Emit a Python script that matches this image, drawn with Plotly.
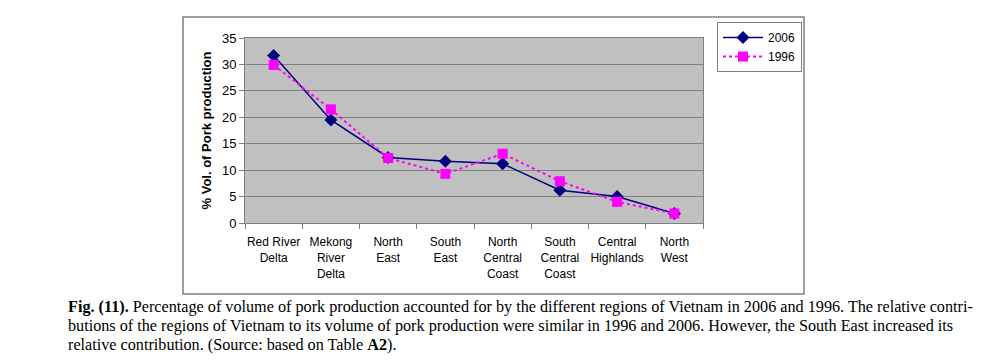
import plotly.graph_objects as go

categories = ["Red River<br>Delta", "Mekong<br>River<br>Delta", "North<br>East", "South<br>East",
              "North<br>Central<br>Coast", "South<br>Central<br>Coast", "Central<br>Highlands", "North<br>West"]
vals_2006 = [31.7, 19.5, 12.4, 11.7, 11.2, 6.2, 5.0, 1.8]
vals_1996 = [29.9, 21.5, 12.3, 9.3, 13.1, 7.9, 4.0, 1.8]
y_ticks = [0, 5, 10, 15, 20, 25, 30, 35]

caption_lines = [
    "<b>Fig. (11).</b> Percentage of volume of pork production accounted for by the different regions of Vietnam in 2006 and 1996. The relative contri-",
    "butions of the regions of Vietnam to its volume of pork production were similar in 1996 and 2006. However, the South East increased its",
    "relative contribution. (Source: based on Table <b>A2</b>).",
]

W, H = 992, 362
L, R, T, B = 245, 703, 38, 223
pw, ph = R - L, B - T

def px_x(x):
    return (x - L) / pw

def px_y(y):
    return (B - y) / ph

fig = go.Figure()
fig.add_trace(go.Scatter(
    x=categories, y=vals_2006, name="2006", mode="lines+markers",
    line=dict(color="#000080", width=1.5),
    marker=dict(symbol="diamond", size=10, color="#000080"),
))
fig.add_trace(go.Scatter(
    x=categories, y=vals_1996, name="1996", mode="lines+markers",
    line=dict(color="#FF00FF", width=2, dash="dot"),
    marker=dict(symbol="square", size=10, color="#FF00FF"),
))

fig.update_layout(
    width=W, height=H,
    margin=dict(l=L, r=W - R, t=T, b=H - B, pad=0, autoexpand=False),
    paper_bgcolor="white", plot_bgcolor="#C0C0C0",
    font=dict(family="Liberation Sans, Arial, sans-serif", size=12, color="black"),
    showlegend=True,
    legend=dict(
        x=px_x(717), y=px_y(22), xanchor="left", yanchor="top",
        bgcolor="white", bordercolor="#808080", borderwidth=1,
        font=dict(size=12), tracegroupgap=0, itemwidth=40,
    ),
)
fig.update_xaxes(
    type="category", tickson="boundaries", ticks="outside", ticklen=5, tickcolor="#808080",
    showgrid=False, showline=True, linecolor="#808080", linewidth=1, mirror=True,
    tickfont=dict(size=12), tickangle=0, automargin=False, range=[-0.5, 7.5],
    ticklabelstandoff=8,
)
fig.update_yaxes(
    range=[0, 35], tickvals=y_ticks, ticks="outside", ticklen=5, tickcolor="#808080",
    showgrid=True, gridcolor="#808080", gridwidth=1,
    showline=True, linecolor="#808080", linewidth=1, mirror=True, zeroline=False,
    tickfont=dict(size=13), automargin=False,
    title=dict(text="<b>% Vol. of Pork production</b>", font=dict(size=13), standoff=7),
)

# outer chart frame
fig.add_shape(type="rect", xref="paper", yref="paper",
              x0=px_x(183), x1=px_x(804), y0=px_y(294), y1=px_y(17),
              line=dict(color="#808080", width=1.5), fillcolor="rgba(0,0,0,0)", layer="above")

for i, line in enumerate(caption_lines):
    fig.add_annotation(
        text=line, xref="paper", yref="paper",
        x=px_x(66), y=px_y(307 + 19 * i), xanchor="left", yanchor="middle",
        showarrow=False, align="left",
        font=dict(family="Liberation Serif, Times New Roman, serif", size=16.2, color="black"),
    )

fig.write_html("out.html", config={"displayModeBar": False},
               post_script="document.body.style.margin='0px';document.body.style.overflow='hidden';")
